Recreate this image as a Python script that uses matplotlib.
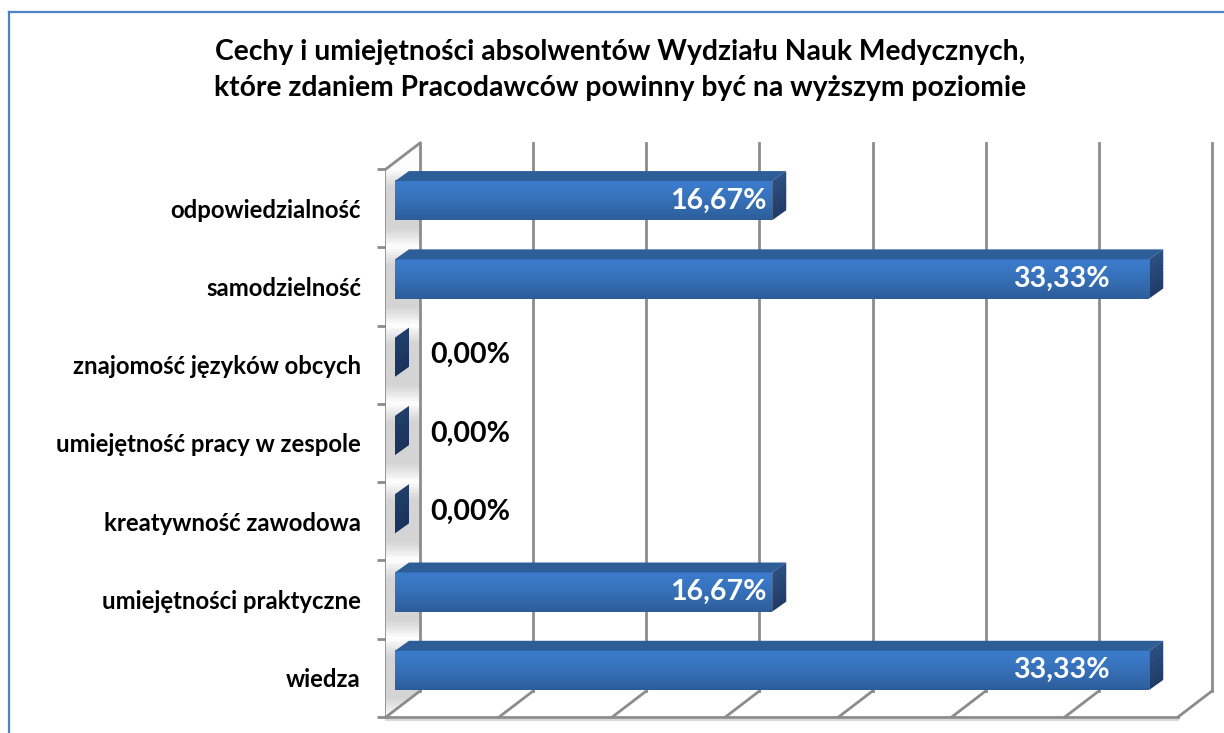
import numpy as np
import matplotlib
matplotlib.use("Agg")
import matplotlib.pyplot as plt
from matplotlib.patches import Polygon
from matplotlib.lines import Line2D
from matplotlib.transforms import IdentityTransform
from matplotlib.colors import to_rgb

plt.rcParams['font.family'] = ['Lato', 'DejaVu Sans']

# data (top to bottom as in the chart)
categories = [
    "odpowiedzialność",
    "samodzielność",
    "znajomość języków obcych",
    "umiejętność pracy w zespole",
    "kreatywność zawodowa",
    "umiejętności praktyczne",
    "wiedza",
]
values = [16.67, 33.33, 0.0, 0.0, 0.0, 16.67, 33.33]
grid_ticks = [0, 5, 10, 15, 20, 25, 30, 35]

title = ("Cechy i umiejętności absolwentów Wydziału Nauk Medycznych,\n"
         "które zdaniem Pracodawców powinny być na wyższym poziomie")

W, H = 1224, 733
fig = plt.figure(figsize=(W / 100, H / 100), dpi=100)

# front plane of the 3d box
ax = fig.add_axes([386 / W, 16 / H, 792 / W, 548 / H])
n = len(categories)
ax.set_xlim(0, 35)
ax.set_ylim(-0.5, n - 0.5)
ax.patch.set_visible(False)
for s in ["top", "right"]:
    ax.spines[s].set_visible(False)
GRAY = "#8c8c8c"
ax.spines["left"].set_color(GRAY)
ax.spines["left"].set_linewidth(2)
ax.spines["bottom"].set_color(GRAY)
ax.spines["bottom"].set_linewidth(2)
ax.set_xticks([])
ax.set_yticks(range(n))
ax.set_yticklabels(categories[::-1], fontsize=17.2, fontweight="bold")
ax.tick_params(axis="y", which="major", length=0, pad=18)
ax.set_yticks(np.arange(-0.5, n), minor=True)
ax.tick_params(axis="y", which="minor", length=6.5, width=2, color=GRAY)

ID = IdentityTransform()
DEPTH = np.array([34.0, 26.0])     # front -> back wall
BAR_OFF = np.array([9.0, 7.5])     # front plane -> bar front face
BAR_D = np.array([14.0, 10.0])     # bar depth
BAR_H = 0.5


def disp(x, y):
    return ax.transData.transform((x, y))


def poly(pts, **kw):
    p = Polygon(np.array(pts), closed=True, transform=ID, **kw)
    fig.add_artist(p)
    return p


# left wall
w0 = disp(0, -0.5)
w1 = disp(0, n - 0.5)
wall = poly([w0, w1, w1 + DEPTH, w0 + DEPTH], facecolor="#fcfcfc",
            edgecolor="none", zorder=1)

# soft shadows of the bars on the wall
for i, v in enumerate(values):
    yc = n - 1 - i
    b = disp(0, yc - BAR_H / 2) + BAR_OFF
    t = disp(0, yc + BAR_H / 2) + BAR_OFF
    for k in range(7):
        e = 1 + k * 2.5
        sp = poly([[b[0] - 40, b[1] - e - 8], [b[0] + 60, b[1] - e - 8],
                   [t[0] + 60, t[1] + e - 6], [t[0] - 40, t[1] + e - 6]],
                  facecolor="#707070", alpha=0.045, edgecolor="none", zorder=1.5)
        sp.set_clip_path(wall)

# back wall gridlines and floor diagonals
for g in grid_ticks:
    a = disp(g, -0.5)
    b = disp(g, n - 0.5)
    fig.add_artist(Line2D([a[0] + DEPTH[0], b[0] + DEPTH[0]],
                          [a[1] + DEPTH[1], b[1] + DEPTH[1]],
                          transform=ID, color=GRAY, lw=2, zorder=2))
    fig.add_artist(Line2D([a[0], a[0] + DEPTH[0]], [a[1], a[1] + DEPTH[1]],
                          transform=ID, color=GRAY, lw=2, zorder=2))
# wall top edge
fig.add_artist(Line2D([w1[0], w1[0] + DEPTH[0]], [w1[1], w1[1] + DEPTH[1]],
                      transform=ID, color=GRAY, lw=2, zorder=2))
# floor thickness under the front edge
f1 = disp(35, -0.5)
fig.add_artist(Line2D([w0[0], f1[0]], [w0[1] - 3, f1[1] - 3],
                      transform=ID, color="#d9d9d9", lw=1.5, zorder=2))


def blend(c1, c2, t):
    c1, c2 = np.array(to_rgb(c1)), np.array(to_rgb(c2))
    return tuple(c1 + (c2 - c1) * t)


# bars
for i, v in enumerate(values):
    yc = n - 1 - i
    bl = disp(0, yc - BAR_H / 2) + BAR_OFF
    tr = disp(v, yc + BAR_H / 2) + BAR_OFF
    br = np.array([tr[0], bl[1]])
    tl = np.array([bl[0], tr[1]])
    cval = f"{v:.2f}%".replace(".", ",")
    if v > 0:
        # front face gradient
        steps = 24
        hgt = tr[1] - bl[1]
        for s in range(steps):
            y0 = bl[1] + hgt * s / steps
            y1 = bl[1] + hgt * (s + 1) / steps + 0.6
            t = 1 - s / (steps - 1)
            c = blend("#3b7bcb", "#2c5d9a", t ** 1.3)
            poly([[bl[0], y0], [tr[0], y0], [tr[0], y1], [bl[0], y1]],
                 facecolor=c, edgecolor="none", zorder=5)
        poly([tl, tr, tr + BAR_D, tl + BAR_D], facecolor="#2d5e98",
             edgecolor="none", zorder=5)
        lx = disp(v * 0.91, yc)[0] + BAR_OFF[0] + 28
        fig.text(lx / W, (bl[1] + tr[1]) / 2 / H, cval, color="white",
                 fontsize=20.5, fontweight="bold", ha="right", va="center",
                 zorder=7)
        c_top, c_bot = "#2a4e80", "#1c3763"
    else:
        fig.text((bl[0] + 35) / W, (bl[1] + tr[1]) / 2 / H + 2 / H, cval,
                 color="black", fontsize=20.5, fontweight="bold", ha="left",
                 va="center", zorder=7)
        c_top, c_bot = "#1f3d68", "#17305a"
    # end face
    steps = 12
    for s in range(steps):
        f0 = s / steps
        f1_ = min((s + 1.15) / steps, 1)
        c = blend(c_top, c_bot, f0)
        p0 = br + (tr - br) * (1 - f0)
        p1 = br + (tr - br) * (1 - f1_)
        poly([p1, p0, p0 + BAR_D, p1 + BAR_D], facecolor=c,
             edgecolor="none", zorder=5)

fig.text(620 / W, 1 - 70 / H, title, ha="center", va="center", fontsize=20.3,
         fontweight="bold", linespacing=1.45)

# chart area border
BLUE = "#4f81c7"
fig.add_artist(Line2D([9 / W, 9 / W], [0, 1 - 12 / H], color=BLUE, lw=1.6,
                      transform=fig.transFigure))
fig.add_artist(Line2D([9 / W, 1], [1 - 12 / H, 1 - 12 / H], color=BLUE, lw=1.6,
                      transform=fig.transFigure))

fig.savefig("out.png", dpi=100)
